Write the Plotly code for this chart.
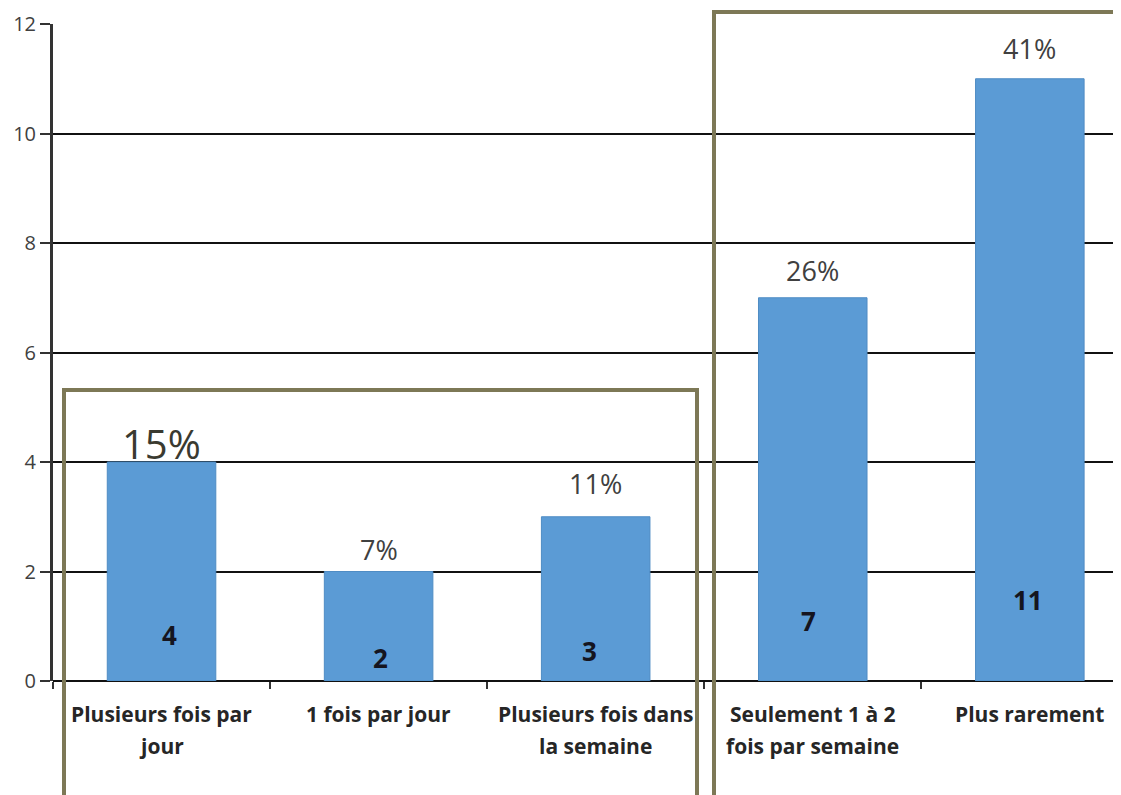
import plotly.graph_objects as go

categories = ["Plusieurs fois par<br>jour", "1 fois par jour", "Plusieurs fois dans<br>la semaine",
              "Seulement 1 à 2<br>fois par semaine", "Plus rarement"]
counts = [4, 2, 3, 7, 11]
percents = ["15%", "7%", "11%", "26%", "41%"]
y_ticks = [0, 2, 4, 6, 8, 10, 12]

# layout constants (pixels / offsets); page body has an 8px margin
OFF = 8
W, H = 1121, 795
ML, MT = 53 - OFF, 24 - OFF
PLOT_RIGHT = 1121 - OFF
PLOT_BOTTOM = 681 - OFF
MR = W - PLOT_RIGHT
MB = H - PLOT_BOTTOM
pct_y = [4.33, 2.4, 3.61, 7.5, 11.56]
pct_size = [40, 27, 27, 27, 27]
cnt_y = [0.84, 0.42, 0.55, 1.10, 1.48]
cnt_xshift = [8, 2, -6, -4, -2]
OLIVE = "#7D7856"


def px2paper_x(px):
    return (px - OFF - ML) / (PLOT_RIGHT - ML)


def px2paper_y(py):
    return (PLOT_BOTTOM - (py - OFF)) / (PLOT_BOTTOM - MT)


fig = go.Figure()
fig.add_trace(go.Bar(
    x=categories, y=counts, width=0.5,
    marker=dict(color="#5B9BD5", line=dict(color="#4F8CC4", width=1)),
    showlegend=False, hoverinfo="skip"))

ann = []
for i, c in enumerate(categories):
    ann.append(dict(x=c, y=pct_y[i], xref="x", yref="y", text=percents[i], showarrow=False,
                    font=dict(size=pct_size[i], color="#3A3A30" if i == 0 else "#404040",
                              family="Open Sans")))
    ann.append(dict(x=c, y=cnt_y[i], xref="x", yref="y", text="<b>%d</b>" % counts[i], showarrow=False,
                    xshift=cnt_xshift[i],
                    font=dict(size=26, color="#15151f", family="Open Sans")))
    lines = c.split("<br>")
    for j, ln in enumerate(lines):
        ann.append(dict(x=c, y=px2paper_y(714 + 32 * j), xref="x", yref="paper", text="<b>%s</b>" % ln,
                        showarrow=False, yanchor="middle",
                        font=dict(size=21, color="#262626", family="Open Sans")))

shapes = [
    dict(type="rect", xref="paper", yref="paper",
         x0=px2paper_x(64), x1=px2paper_x(697), y0=px2paper_y(830), y1=px2paper_y(390),
         line=dict(color=OLIVE, width=4), fillcolor="rgba(0,0,0,0)", layer="above"),
    dict(type="rect", xref="paper", yref="paper",
         x0=px2paper_x(714), x1=px2paper_x(1150), y0=px2paper_y(830), y1=px2paper_y(12),
         line=dict(color=OLIVE, width=4), fillcolor="rgba(0,0,0,0)", layer="above"),
]

fig.update_layout(
    width=W, height=H,
    margin=dict(l=ML, r=MR, t=MT, b=MB, autoexpand=False),
    plot_bgcolor="white", paper_bgcolor="white",
    annotations=ann, shapes=shapes,
    xaxis=dict(range=[-0.5, 4.42], showticklabels=False, ticks="outside", tickson="boundaries",
               ticklen=7, tickwidth=2, tickcolor="#333", showline=False, showgrid=False, zeroline=False,
               automargin=False),
    yaxis=dict(range=[0, 12], tickvals=y_ticks, showgrid=True, gridcolor="#111", gridwidth=2,
               zeroline=True, zerolinecolor="#111", zerolinewidth=2, automargin=False,
               showline=True, linecolor="#333", linewidth=3, ticks="outside", ticklen=10,
               tickwidth=2, tickcolor="#333",
               tickfont=dict(size=20, color="#404040", family="Open Sans")),
)
fig.write_html("out.html")
